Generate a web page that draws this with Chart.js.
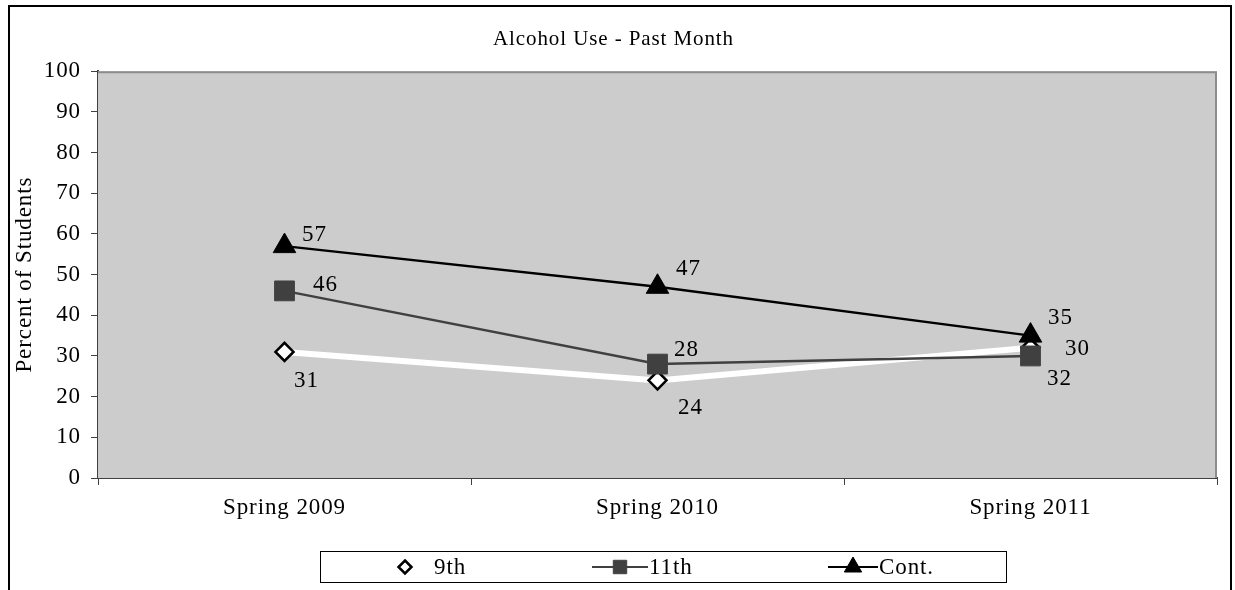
<!DOCTYPE html>
<html>
<head>
<meta charset="utf-8">
<script src="https://cdn.jsdelivr.net/npm/chart.js@4.4.0/dist/chart.umd.min.js"></script>
<style>
html,body{margin:0;padding:0;background:#fff;}
#wrap{width:1235px;height:590px;position:relative;}
canvas{display:block;}
</style>
</head>
<body>
<div id="wrap"><canvas id="c" width="1235" height="590"></canvas></div>
<script>
// ---- data ----
const categories = ['Spring 2009', 'Spring 2010', 'Spring 2011'];
const seriesNames = ['9th', '11th', 'Cont.'];
const ninthValues = [31, 24, 32];
const eleventhValues = [46, 28, 30];
const contValues = [57, 47, 35];
const yMin = 0, yMax = 100, yStep = 10;
const chartTitle = 'Alcohol Use - Past Month';
const yAxisTitle = 'Percent of Students';

// ---- style ----
const FONT = "'Liberation Serif', 'Times New Roman', serif";
const LS = '0.9px';
const FS = 23;
Chart.defaults.font.family = FONT;
Chart.defaults.color = '#000';

function setLS(chart){ try { chart.ctx.letterSpacing = LS; } catch(e){} }

const spacingPlugin = {
  id: 'spacing',
  beforeUpdate: setLS, beforeLayout: setLS, beforeDraw: setLS
};

const framePlugin = {
  id: 'frame',
  beforeDatasetsDraw(chart){
    const {ctx, chartArea:a} = chart;
    ctx.save();
    ctx.fillStyle = '#cccccc';
    ctx.fillRect(a.left, a.top, a.right - a.left, a.bottom - a.top);
    ctx.strokeStyle = '#8c8c8c';
    ctx.lineWidth = 2;
    ctx.beginPath();
    ctx.moveTo(a.left, a.top + 1);
    ctx.lineTo(a.right - 1, a.top + 1);
    ctx.lineTo(a.right - 1, a.bottom);
    ctx.stroke();
    ctx.restore();
  },
  afterDraw(chart){
    const ctx = chart.ctx;
    ctx.save();
    ctx.strokeStyle = '#000';
    ctx.lineWidth = 2;
    ctx.strokeRect(9, 6, 1222, 620);
    ctx.restore();
  }
};

function drawMarker(ctx, style, x, y, r){
  ctx.beginPath();
  if (style === 'rectRot') {
    ctx.moveTo(x, y - r); ctx.lineTo(x + r, y); ctx.lineTo(x, y + r); ctx.lineTo(x - r, y); ctx.closePath();
  } else if (style === 'rect') {
    const s = Math.SQRT1_2 * r;
    ctx.rect(x - s, y - s, 2 * s, 2 * s);
  } else if (style === 'triangle') {
    ctx.moveTo(x, y - r);
    ctx.lineTo(x + r * Math.sin(Math.PI / 3), y + r * 0.5);
    ctx.lineTo(x - r * Math.sin(Math.PI / 3), y + r * 0.5);
    ctx.closePath();
  }
  ctx.fill();
  ctx.stroke();
}

const labelPlugin = {
  id: 'valueLabels',
  afterDatasetsDraw(chart){
    const ctx = chart.ctx;
    ctx.save();
    setLS(chart);
    ctx.font = FS + "px " + FONT;
    ctx.fillStyle = '#000';
    ctx.textAlign = 'center';
    ctx.textBaseline = 'middle';
    chart.data.datasets.forEach((ds, di) => {
      const meta = chart.getDatasetMeta(di);
      meta.data.forEach((pt, i) => {
        const off = ds.labelOffsets[i];
        ctx.fillText(String(ds.data[i]), pt.x + off[0], pt.y + off[1]);
      });
    });
    ctx.restore();
  }
};

const legendPlugin = {
  id: 'boxLegend',
  afterDraw(chart){
    const ctx = chart.ctx;
    const box = {x: 320, y: 551, w: 686, h: 31};
    const items = [
      {marker: 405, line: null, text: 434},
      {marker: 620, line: [592, 648], text: 649},
      {marker: 853, line: [828, 878], text: 879}
    ];
    ctx.save();
    setLS(chart);
    ctx.strokeStyle = '#000';
    ctx.lineWidth = 1;
    ctx.strokeRect(box.x + 0.5, box.y + 0.5, box.w, box.h);
    const cy = box.y + box.h / 2 + 0.5;
    chart.data.datasets.forEach((ds, di) => {
      const it = items[di];
      if (it.line) {
        ctx.strokeStyle = ds.borderColor;
        ctx.lineWidth = 2;
        ctx.beginPath(); ctx.moveTo(it.line[0], cy); ctx.lineTo(it.line[1], cy); ctx.stroke();
      }
      ctx.fillStyle = ds.pointBackgroundColor;
      ctx.strokeStyle = ds.pointBorderColor;
      ctx.lineWidth = ds.pointBorderWidth;
      drawMarker(ctx, ds.pointStyle, it.marker, cy, ds.legendRadius);
      ctx.fillStyle = '#000';
      ctx.font = FS + "px " + FONT;
      ctx.textAlign = 'left';
      ctx.textBaseline = 'middle';
      ctx.fillText(ds.label, it.text, cy + 1);
    });
    ctx.restore();
  }
};

new Chart(document.getElementById('c'), {
  type: 'line',
  data: {
    labels: categories,
    datasets: [
      {
        label: seriesNames[0], data: ninthValues, order: 3,
        borderColor: '#ffffff', borderWidth: 6,
        pointStyle: 'rectRot', pointRadius: 9, pointHoverRadius: 9,
        pointBackgroundColor: '#ffffff', pointBorderColor: '#000000', pointBorderWidth: 2.5,
        legendRadius: 6.5,
        labelOffsets: [[22, 29], [33, 28], [29, 31]],
        tension: 0
      },
      {
        label: seriesNames[1], data: eleventhValues, order: 2,
        borderColor: '#404040', borderWidth: 2.5,
        pointStyle: 'rect', pointRadius: 14, pointHoverRadius: 14,
        pointBackgroundColor: '#404040', pointBorderColor: '#404040', pointBorderWidth: 1,
        legendRadius: 9.5,
        labelOffsets: [[41, -6], [29, -14], [47, -7]],
        tension: 0
      },
      {
        label: seriesNames[2], data: contValues, order: 1,
        borderColor: '#000000', borderWidth: 2.5,
        pointStyle: 'triangle', pointRadius: 13, pointHoverRadius: 13,
        pointBackgroundColor: '#000000', pointBorderColor: '#000000', pointBorderWidth: 1,
        legendRadius: 10,
        labelOffsets: [[30, -11], [31, -18], [30, -18]],
        tension: 0
      }
    ]
  },
  options: {
    responsive: false,
    animation: false,
    events: [],
    layout: { padding: { left: 10, right: 18, top: 0, bottom: 70 } },
    plugins: {
      legend: { display: false },
      tooltip: { enabled: false },
      title: {
        display: true, text: chartTitle, color: '#000',
        font: { size: 21, weight: 'normal', family: FONT },
        padding: { top: 27, bottom: 19 }
      }
    },
    scales: {
      x: {
        type: 'category',
        offset: true,
        grid: { offset: true, drawOnChartArea: false, drawTicks: true, tickLength: 7, color: '#404040', lineWidth: 1 },
        border: { display: true, color: '#404040', width: 2 },
        ticks: { font: { size: FS }, color: '#000', padding: 9, maxRotation: 0 },
        afterFit(scale){ scale.height = 42; }
      },
      y: {
        min: yMin, max: yMax,
        grid: { drawOnChartArea: false, drawTicks: true, tickLength: 7, color: '#404040', lineWidth: 1 },
        border: { display: true, color: '#404040', width: 2 },
        ticks: { stepSize: yStep, font: { size: FS }, color: '#000', padding: 10 },
        title: { display: true, text: yAxisTitle, font: { size: FS }, color: '#000', padding: { top: 1, bottom: 0 } },
        afterFit(scale){ scale.width = 88; }
      }
    }
  },
  plugins: [spacingPlugin, framePlugin, labelPlugin, legendPlugin]
});
</script>
</body>
</html>
